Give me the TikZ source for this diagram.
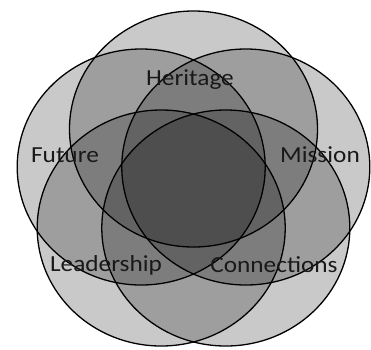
\documentclass[tikz,border=0pt]{standalone}
\usepackage{fontspec}
\setmainfont{Carlito}
\begin{document}
\begin{tikzpicture}[x=1pt,y=-1pt]
 % styles for the petals and their labels
 \tikzset{petal/.style={fill=black,fill opacity=0.21},
  rim/.style={line width=1.3pt},
  tag/.style={font=\fontsize{23}{27}\selectfont,text=black!90,xscale=1.1,transform shape}}
 \useasboundingbox (0,0) rectangle (371,349);

 %centres of the five petals
 \coordinate (cH) at (193.5,129);
 \coordinate (cF) at (141.2,167);
 \coordinate (cM) at (245.8,167);
 \coordinate (cL) at (161.2,228);
 \coordinate (cC) at (225.8,228);

 %shade the petals, then draw their outlines
 \foreach \c in {cH,cF,cM,cL,cC}
  \fill[petal] (\c) ellipse [x radius=124, y radius=118];
 \foreach \c in {cH,cF,cM,cL,cC}
  \draw[rim] (\c) ellipse [x radius=124, y radius=118];

 %adding labels
 \node[tag] (heritage) at (190,80) {Heritage};
 \node[tag] (future) at (65,155) {Future};
 \node[tag] (mission) at (320,155) {Mission};
 \node[tag] (leadership) at (106,265) {Leadership};
 \node[tag] (connections) at (274,265) {Connections};
\end{tikzpicture}
\end{document}
